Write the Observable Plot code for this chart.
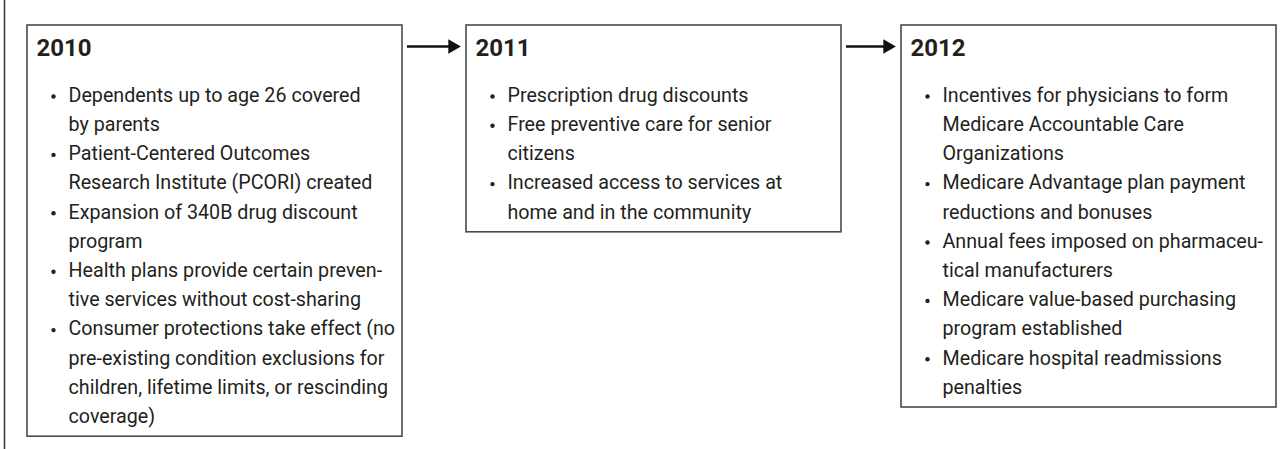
<!DOCTYPE html>
<html>
<head>
<meta charset="utf-8">
<script src="https://cdn.jsdelivr.net/npm/d3@7"></script>
<script src="https://cdn.jsdelivr.net/npm/@observablehq/plot@0.6"></script>
<style>
  body { margin: 0; background: #fff; }
  #chart svg { display: block; }
</style>
</head>
<body>
<div id="chart"></div>
<script>
// ---- Data (content only) ----
const years = ["2010", "2011", "2012"];

const items2010 = [
  ["Dependents up to age 26 covered", "by parents"],
  ["Patient-Centered Outcomes", "Research Institute (PCORI) created"],
  ["Expansion of 340B drug discount", "program"],
  ["Health plans provide certain preven-", "tive services without cost-sharing"],
  ["Consumer protections take effect (no", "pre-existing condition exclusions for", "children, lifetime limits, or rescinding", "coverage)"]
];

const items2011 = [
  ["Prescription drug discounts"],
  ["Free preventive care for senior", "citizens"],
  ["Increased access to services at", "home and in the community"]
];

const items2012 = [
  ["Incentives for physicians to form", "Medicare Accountable Care", "Organizations"],
  ["Medicare Advantage plan payment", "reductions and bonuses"],
  ["Annual fees imposed on pharmaceu-", "tical manufacturers"],
  ["Medicare value-based purchasing", "program established"],
  ["Medicare hospital readmissions", "penalties"]
];

const itemsByYear = [items2010, items2011, items2012];

// ---- Layout (computed in code) ----
const W = 1280, H = 449;
const boxLeft = [27, 466, 901];
const boxWidth = 375;
const boxTop = 25;
const firstLine = 95;
const lineH = 29.2;
const FONT = "Roboto, 'Liberation Sans', sans-serif";

const boxes = years.map((yr, i) => {
  const nLines = d3.sum(itemsByYear[i], b => b.length);
  return {
    year: yr,
    x1: boxLeft[i],
    x2: boxLeft[i] + boxWidth,
    y1: boxTop,
    y2: firstLine + (nLines - 1) * lineH + 20
  };
});

const lines = [];
const bullets = [];
years.forEach((yr, i) => {
  let k = 0;
  itemsByYear[i].forEach(item => {
    item.forEach((t, j) => {
      const row = { year: yr, text: t, x: boxLeft[i] + 41, y: firstLine + k * lineH };
      lines.push(row);
      if (j === 0) bullets.push({ year: yr, x: boxLeft[i] + 26, y: row.y + 1 });
      k++;
    });
  });
});

const arrows = years.slice(1).map((yr, i) => ({
  from: years[i], to: yr,
  x1: boxes[i].x2 + 5,
  x2: boxes[i + 1].x1 - 12,
  tip: boxes[i + 1].x1 - 6,
  y: 46
}));

const chart = Plot.plot({
  width: W,
  height: H,
  margin: 0,
  x: { domain: [0, W], range: [0, W], axis: null },
  y: { domain: [0, H], range: [0, H], axis: null },
  marks: [
    Plot.ruleX([4], { y1: 0, y2: H, stroke: "#333", strokeWidth: 1.5 }),
    Plot.rect(boxes, { x1: "x1", x2: "x2", y1: "y1", y2: "y2", fill: "white", stroke: "#4a4a4a", strokeWidth: 1.6 }),
    Plot.text(boxes, { x: d => d.x1 + 9, y: 48, text: "year", textAnchor: "start", lineAnchor: "middle", fontSize: 24, fontWeight: "bold", fill: "#231f20", fontFamily: FONT }),
    Plot.dot(bullets, { x: "x", y: "y", r: 2.2, fill: "#231f20", stroke: null }),
    Plot.text(lines, { x: "x", y: "y", text: "text", textAnchor: "start", lineAnchor: "middle", fontSize: 19.7, fill: "#231f20", fontFamily: FONT }),
    Plot.ruleY(arrows, { x1: "x1", x2: "x2", y: "y", stroke: "#111", strokeWidth: 2.5 }),
    Plot.dot(arrows, { x: d => d.tip - 8, y: "y", symbol: "triangle", rotate: 90, r: 5.4, fill: "#111", stroke: null })
  ]
});

document.getElementById("chart").appendChild(chart);
</script>
</body>
</html>
